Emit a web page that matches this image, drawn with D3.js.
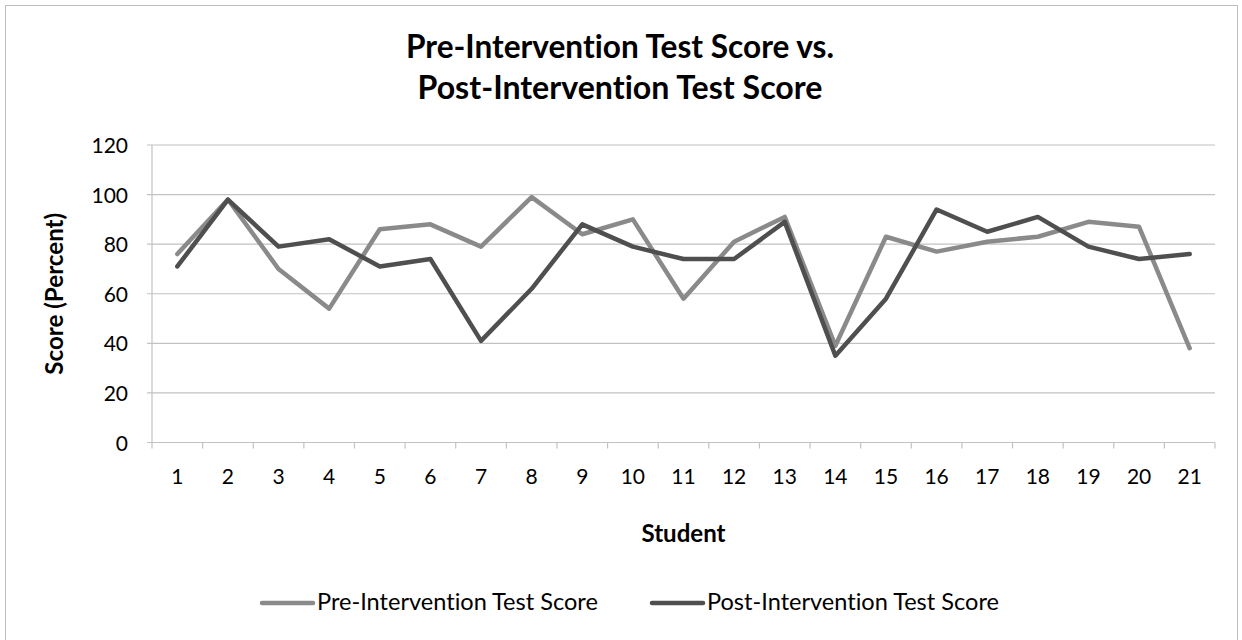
<!DOCTYPE html>
<html>
<head>
<meta charset="utf-8">
<script src="https://cdn.jsdelivr.net/npm/d3@7"></script>
<style>
  html, body { margin: 0; padding: 0; background: #fff; }
  svg { display: block; }
  text { font-family: Lato, "Open Sans", sans-serif; fill: #000; font-variant-ligatures: none; font-feature-settings: "liga" 0, "clig" 0; }
</style>
</head>
<body>
<svg id="chart" width="1242" height="640"></svg>
<script>
// ---- Data ----
const students = ["1","2","3","4","5","6","7","8","9","10","11","12","13","14","15","16","17","18","19","20","21"];
const preScores  = [76, 98, 70, 54, 86, 88, 79, 99, 84, 90, 58, 81, 91, 39, 83, 77, 81, 83, 89, 87, 38];
const postScores = [71, 98, 79, 82, 71, 74, 41, 62, 88, 79, 74, 74, 89, 35, 58, 94, 85, 91, 79, 74, 76];
const yTicks = [0, 20, 40, 60, 80, 100, 120];
const seriesNames = ["Pre-Intervention Test Score", "Post-Intervention Test Score"];
const titleLines = ["Pre-Intervention Test Score vs.", "Post-Intervention Test Score"];

// ---- Layout ----
const svg = d3.select("#chart");
const plot = { left: 152, right: 1215, top: 145, bottom: 442.5 };
const colors = ["#8a8a8a", "#4f4f4f"];
const gridColor = "#c2c2c2";

function fitText(sel, target) {
  const node = sel.node();
  const size = parseFloat(sel.attr("font-size"));
  const w = node.getComputedTextLength();
  sel.attr("font-size", (size * target / w).toFixed(2));
}

// chart frame
svg.append("rect")
  .attr("x", 5.5).attr("y", 5.5).attr("width", 1232).attr("height", 700)
  .attr("fill", "none").attr("stroke", "#bdbdbd").attr("stroke-width", 1);

const x = d3.scaleBand().domain(students).range([plot.left, plot.right]).padding(0);
const y = d3.scaleLinear().domain([0, 120]).range([plot.bottom, plot.top]);
const cx = d => x(d) + x.bandwidth() / 2;

// gridlines
svg.append("g").selectAll("line").data(yTicks).join("line")
  .attr("x1", plot.left - 5).attr("x2", plot.right)
  .attr("y1", d => y(d)).attr("y2", d => y(d))
  .attr("stroke", gridColor).attr("stroke-width", 1.2);

// y axis line
svg.append("line")
  .attr("x1", plot.left).attr("x2", plot.left)
  .attr("y1", y(120)).attr("y2", y(0))
  .attr("stroke", gridColor).attr("stroke-width", 1.2);

// x tick marks at category boundaries
const boundaries = students.map(s => x(s)).concat([plot.right]);
svg.append("g").selectAll("line").data(boundaries).join("line")
  .attr("x1", d => d).attr("x2", d => d)
  .attr("y1", y(0)).attr("y2", y(0) + 6)
  .attr("stroke", gridColor).attr("stroke-width", 1.2);

// y tick labels
const yAxis = d3.axisLeft(y).tickValues(yTicks).tickSize(0).tickPadding(0);
const gy = svg.append("g").attr("transform", `translate(${plot.left - 24},0)`).call(yAxis);
gy.select(".domain").remove();
gy.selectAll("text").attr("font-size", 21).attr("font-family", "Lato, sans-serif")
  .attr("fill", "#000").attr("dy", "0.36em");

// x tick labels
const xAxis = d3.axisBottom(x).tickSize(0).tickPadding(0);
const gx = svg.append("g").attr("transform", `translate(0,${y(0) + 26})`).call(xAxis);
gx.select(".domain").remove();
gx.selectAll("text").attr("font-size", 21).attr("font-family", "Lato, sans-serif")
  .attr("fill", "#000").attr("dy", "0.72em");

// lines
const lineGen = d3.line().x((d, i) => cx(students[i])).y(d => y(d));
[preScores, postScores].forEach((vals, k) => {
  svg.append("path")
    .datum(vals)
    .attr("d", lineGen)
    .attr("fill", "none")
    .attr("stroke", colors[k])
    .attr("stroke-width", 4.5)
    .attr("stroke-linejoin", "round")
    .attr("stroke-linecap", "round");
});

// title
titleLines.forEach((t, i) => {
  const el = svg.append("text")
    .attr("x", 620).attr("y", [58, 99][i])
    .attr("text-anchor", "middle")
    .attr("font-weight", "bold").attr("font-size", 28)
    .text(t);
  fitText(el, [428, 405][i]);
});

// axis titles
const ylab = svg.append("text")
  .attr("transform", `translate(63, ${(plot.top + plot.bottom) / 2}) rotate(-90)`)
  .attr("text-anchor", "middle")
  .attr("font-weight", "bold").attr("font-size", 19)
  .text("Score (Percent)");
fitText(ylab, 162);

const xlab = svg.append("text")
  .attr("x", (plot.left + plot.right) / 2).attr("y", 542)
  .attr("text-anchor", "middle")
  .attr("font-weight", "bold").attr("font-size", 19)
  .text("Student");
fitText(xlab, 84);

// legend
const legendX = [262, 652];
const legendTextW = [281, 292];
seriesNames.forEach((name, k) => {
  const g = svg.append("g");
  g.append("line")
    .attr("x1", legendX[k]).attr("x2", legendX[k] + 51)
    .attr("y1", 603).attr("y2", 603)
    .attr("stroke", colors[k]).attr("stroke-width", 4.5)
    .attr("stroke-linecap", "round");
  const t = g.append("text")
    .attr("x", legendX[k] + 55).attr("y", 610)
    .attr("font-size", 20)
    .text(name);
  fitText(t, legendTextW[k]);
});
</script>
</body>
</html>
